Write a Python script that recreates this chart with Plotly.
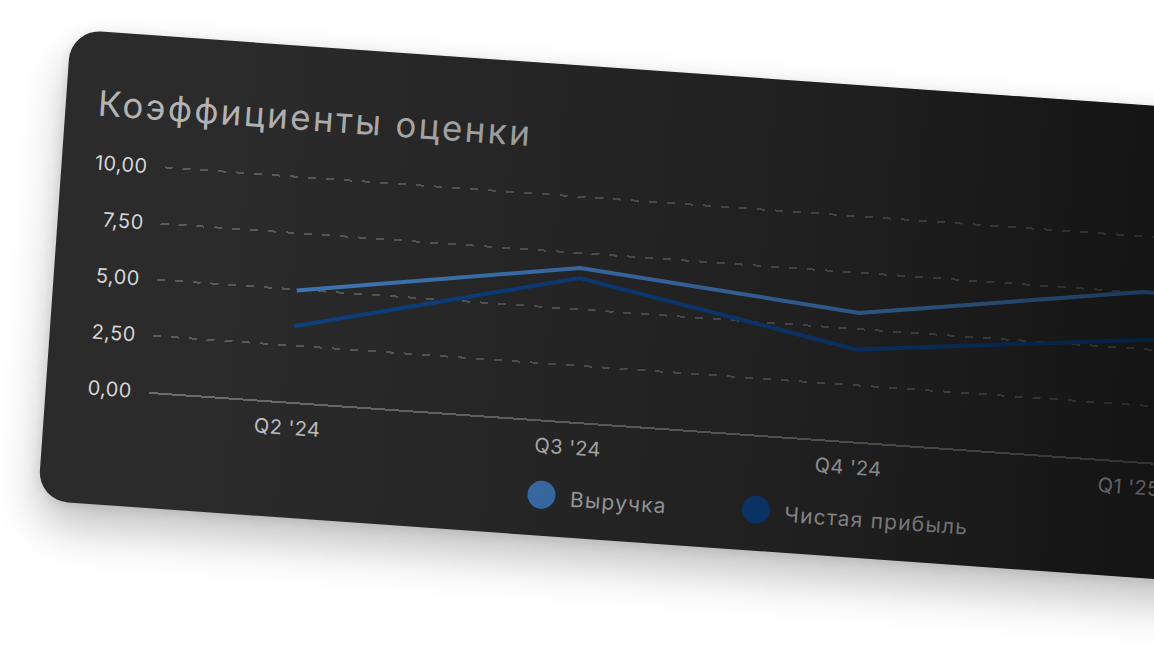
import plotly.graph_objects as go

# ---- data ----
quarters = ["Q2 '24", "Q3 '24", "Q4 '24", "Q1 '25", "Q2 '25"]
revenue = [4.96, 6.84, 5.72, 7.53, 7.6]
net_profit = [3.36, 6.39, 4.09, 5.39, 6.3]
y_ticks = [0, 2.5, 5, 7.5, 10]
series_names = ["Выручка", "Чистая прибыль"]
title_text = "Коэффициенты оценки"

# ---- styling ----
colors = ["#4079bb", "#0d4284"]
W, H = 1560, 472
ML, MT, MR, MB = 103, 127, 51, 116
PW = W - ML - MR
PH = H - MT - MB
FONT = "Inter"
Y_TOP = 10 * PH / 225.0  # keeps 225 px per 10 units, 10,00 grid line stays inside the plot


def px_x(X):
    return (X - ML) / PW


def px_y(Y):
    return (MT + PH - Y) / PH


fig = go.Figure()
for name, vals, col in zip(series_names, [revenue, net_profit], colors):
    fig.add_trace(go.Scatter(
        x=quarters, y=vals, name=name, mode="lines",
        line=dict(color=col, width=4), showlegend=False, hoverinfo="skip"))

# legend (circles + labels)
legend_circle_x = [502, 717]
legend_text_x = [533, 752]
shapes = []
annotations = []
for name, col, cx, tx in zip(series_names, colors, legend_circle_x, legend_text_x):
    shapes.append(dict(type="circle", xref="paper", yref="paper",
                       xsizemode="pixel", ysizemode="pixel",
                       xanchor=px_x(cx), yanchor=px_y(431),
                       x0=-14, x1=14, y0=-14, y1=14,
                       fillcolor=col, line=dict(width=0)))
    annotations.append(dict(text=name, xref="paper", yref="paper",
                            x=px_x(tx), y=px_y(433), xanchor="left", yanchor="middle",
                            showarrow=False, font=dict(family=FONT, size=21, color="#b4b4b4")))

annotations.append(dict(text=title_text, xref="paper", yref="paper",
                        x=px_x(53), y=px_y(71), xanchor="left", yanchor="middle",
                        showarrow=False, font=dict(family=FONT, size=35, color="#b3b3b3")))

fig.update_layout(
    width=W, height=H,
    margin=dict(l=ML, r=MR, t=MT, b=MB, autoexpand=False),
    paper_bgcolor="rgba(0,0,0,0)", plot_bgcolor="rgba(0,0,0,0)",
    separators=", ",
    font=dict(family=FONT),
    shapes=shapes, annotations=annotations,
    xaxis=dict(type="category", range=[-0.5, len(quarters) - 0.5],
               showgrid=False, zeroline=False,
               showline=True, linecolor="#6c6c6c", linewidth=2,
               ticks="", ticklabelstandoff=7,
               tickfont=dict(family=FONT, size=20, color="#c4c4c4"),
               fixedrange=True, automargin=False),
    yaxis=dict(range=[0, Y_TOP], tickvals=y_ticks, tickformat=".2f",
               showgrid=True, gridcolor="#5a5a5a", gridwidth=2, griddash="8px,10px",
               zeroline=False, showline=False, ticks="", ticklabelstandoff=16,
               tickfont=dict(family=FONT, size=20, color="#d6d6d6"),
               fixedrange=True, automargin=False),
)

post = """
var gd=document.getElementById('{plot_id}');
document.documentElement.style.overflow='hidden';
document.body.style.margin='0';document.body.style.overflow='hidden';document.body.style.background='#ffffff';
gd.style.position='absolute';gd.style.left='0px';gd.style.top='0px';
gd.style.transformOrigin='0 0';
gd.style.transform='translate(71px,29.5px) rotate(4.03deg)';
gd.style.borderRadius='30px';gd.style.overflow='hidden';
gd.style.background='#2b2b2b';
gd.style.boxShadow='0 24px 44px rgba(0,0,0,0.24), 0 2px 12px rgba(0,0,0,0.10)';
var ts=gd.querySelectorAll('text');
for(var i=0;i<ts.length;i++){
  var t=ts[i].textContent;
  if(t==='Коэффициенты оценки'){ts[i].style.letterSpacing='2.4px';}
  else if(t==='Выручка'||t==='Чистая прибыль'){ts[i].style.letterSpacing='1.2px';}
  else {ts[i].style.letterSpacing='0.4px';}
}
var ov=document.createElement('div');
ov.style.cssText='position:absolute;left:0;top:0;width:100%;height:100%;pointer-events:none;z-index:10;background:linear-gradient(to right, rgba(0,0,0,0) 10%, rgba(0,0,0,0.28) 50%, rgba(0,0,0,0.52) 70%, rgba(0,0,0,0.65) 100%);';
gd.appendChild(ov);
"""

fig.write_html("out.html", config={"displayModeBar": False}, post_script=post)
